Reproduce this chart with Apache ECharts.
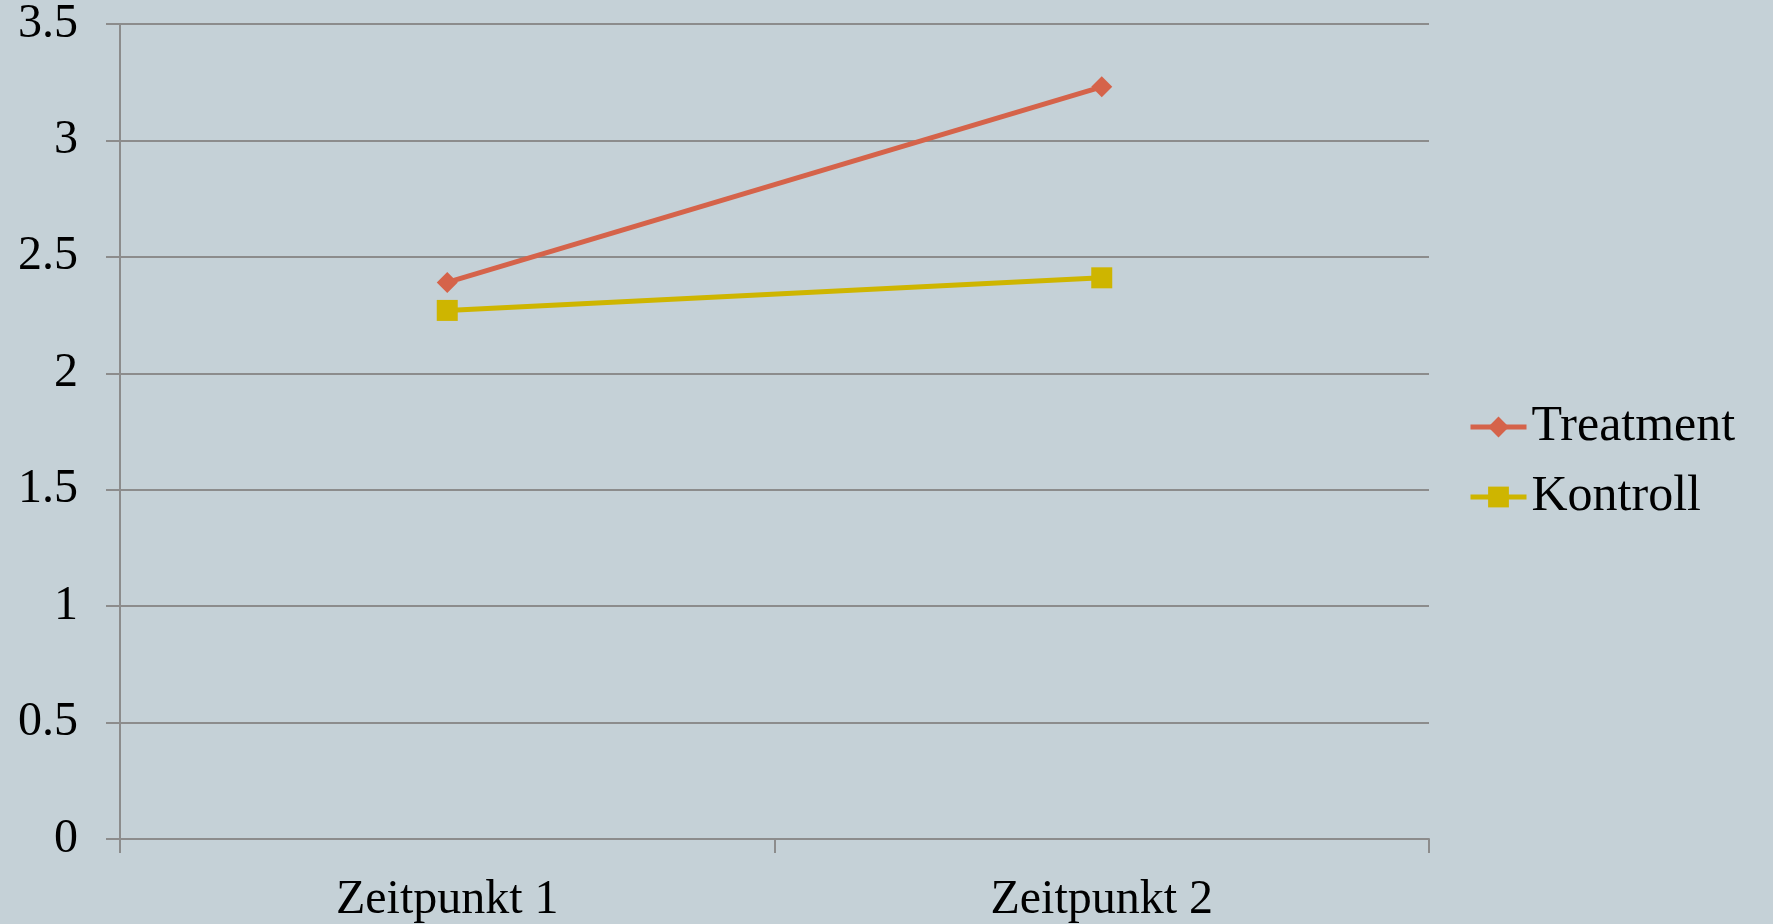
<!DOCTYPE html>
<html>
<head>
<meta charset="utf-8">
<script src="https://cdn.jsdelivr.net/npm/echarts@6/dist/echarts.min.js"></script>
<style>
  html, body { margin: 0; padding: 0; background: #c5d1d7; }
  #chart { width: 1773px; height: 924px; }
</style>
</head>
<body>
<div id="chart"></div>
<script>
var categories = ['Zeitpunkt 1', 'Zeitpunkt 2'];
var treatment = [2.39, 3.23];
var kontroll = [2.27, 2.41];

var chart = echarts.init(document.getElementById('chart'));
var serif = '"Liberation Serif", "DejaVu Serif", serif';

chart.setOption({
  backgroundColor: '#c5d1d7',
  animation: false,
  textStyle: { fontFamily: serif },
  grid: { left: 120, right: 344, top: 20, bottom: 84 },
  legend: {
    orient: 'vertical',
    left: 1463,
    top: 397,
    padding: 5,
    itemWidth: 56,
    itemHeight: 26,
    itemGap: 20,
    lineStyle: { width: 5 },
    textStyle: { fontSize: 50, color: '#000', fontFamily: serif },
    data: ['Treatment', 'Kontroll']
  },
  xAxis: {
    type: 'category',
    data: categories,
    boundaryGap: true,
    axisLine: { lineStyle: { color: '#8c8c8c', width: 2 } },
    axisTick: { show: true, length: 14, lineStyle: { color: '#8c8c8c', width: 2 } },
    axisLabel: { color: '#000', fontSize: 48, margin: 37, fontFamily: serif }
  },
  yAxis: {
    type: 'value',
    min: 0,
    max: 3.5,
    interval: 0.5,
    axisLine: { show: true, lineStyle: { color: '#8c8c8c', width: 2 } },
    axisTick: { show: true, length: 14, lineStyle: { color: '#8c8c8c', width: 2 } },
    splitLine: { lineStyle: { color: '#8c8c8c', width: 2 } },
    axisLabel: { color: '#000', fontSize: 48, margin: 42, fontFamily: serif }
  },
  series: [
    {
      name: 'Treatment',
      type: 'line',
      data: treatment,
      symbol: 'diamond',
      symbolSize: 21,
      color: '#d5634a',
      lineStyle: { width: 5, color: '#d5634a' },
      itemStyle: { color: '#d5634a' }
    },
    {
      name: 'Kontroll',
      type: 'line',
      data: kontroll,
      symbol: 'rect',
      symbolSize: 21,
      color: '#ceb500',
      lineStyle: { width: 5, color: '#ceb500' },
      itemStyle: { color: '#ceb500' }
    }
  ]
});
</script>
</body>
</html>
